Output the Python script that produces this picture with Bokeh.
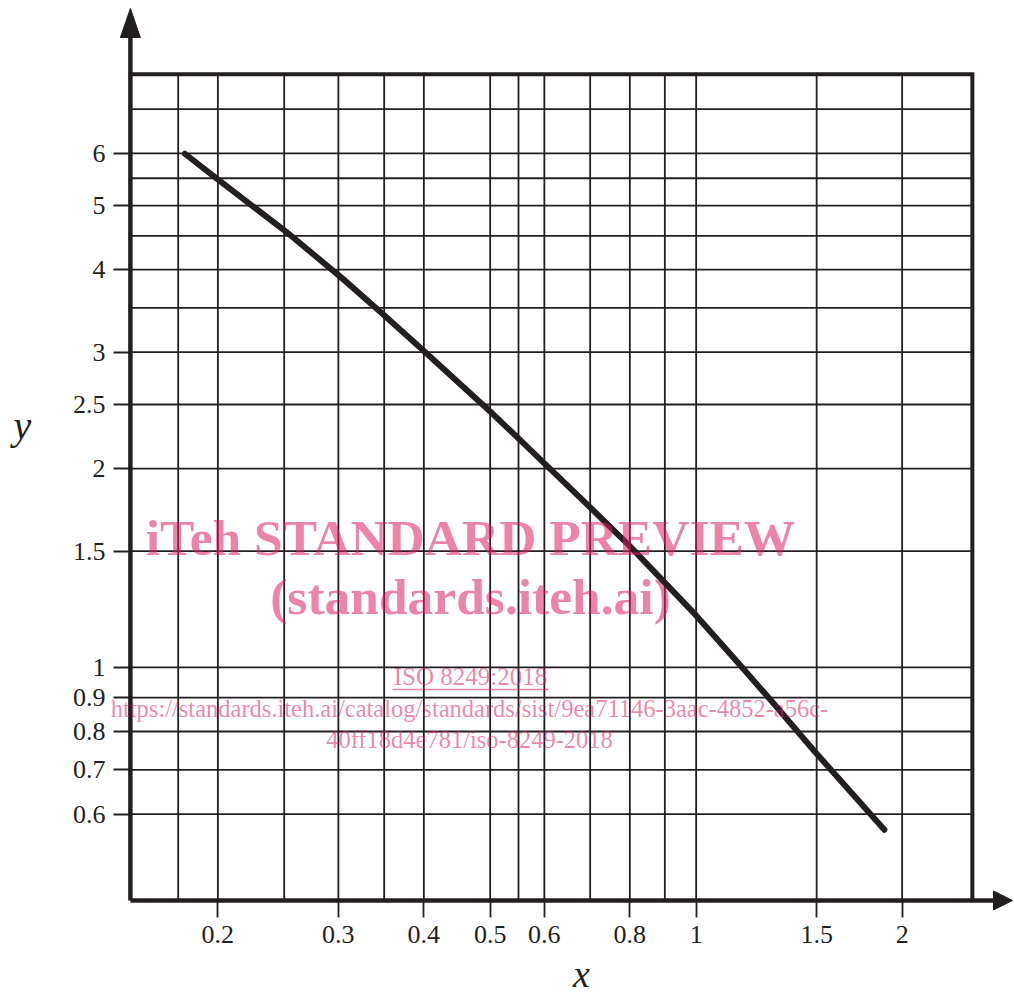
import math
from bokeh.plotting import figure
from bokeh.models import FixedTicker, Range1d, Label, CustomJSTickFormatter
from bokeh.embed import file_html
from bokeh.resources import INLINE

# ---- data ----
x_values = [0.179, 0.198, 0.252, 0.304, 0.347, 0.399, 0.500, 0.548, 0.599,
            0.691, 0.798, 0.884, 0.999, 1.148, 1.298, 1.487, 1.884]
y_values = [5.99, 5.52, 4.56, 3.88, 3.44, 3.02, 2.44, 2.23, 2.04,
            1.77, 1.53, 1.37, 1.20, 1.02, 0.882, 0.748, 0.568]

x_tick_labels = [0.2, 0.3, 0.4, 0.5, 0.6, 0.8, 1, 1.5, 2]
x_grid_values = [0.175, 0.2, 0.25, 0.3, 0.35, 0.4, 0.5, 0.55, 0.6, 0.7, 0.8,
                 0.9, 1, 1.5, 2]
y_tick_labels = [0.6, 0.7, 0.8, 0.9, 1, 1.5, 2, 2.5, 3, 4, 5, 6]
y_grid_values = [0.6, 0.7, 0.8, 0.9, 1, 1.5, 2, 2.5, 3, 3.5, 4, 4.5, 5, 5.5,
                 6, 7]

# extent of the graph paper (axis origin and far edges)
x_axis_start, x_box_end = 0.149, 2.533
y_axis_start, y_box_end = 0.444, 7.90

x_label = "x"
y_label = "y"
wm_title = "iTeh STANDARD PREVIEW"
wm_sub = "(standards.iteh.ai)"
wm_iso = "ISO 8249:2018"
wm_url1 = "https://standards.iteh.ai/catalog/standards/sist/9ea71146-3aac-4852-a56c-"
wm_url2 = "40ff18d4e781/iso-8249-2018"

# ---- styling / layout ----
INK = "#231f20"
PINK = "#dc1e64"
SERIF = "Liberation Serif"
W, H = 1014, 998
X_LO, X_HI = 0.09624, 2.919
Y_LO, Y_HI = 0.31551, 10.218

lx0, lx1 = math.log10(X_LO), math.log10(X_HI)
ly0, ly1 = math.log10(Y_LO), math.log10(Y_HI)


def px_to_x(px):
    return 10 ** (lx0 + px / W * (lx1 - lx0))


def py_to_y(py):
    return 10 ** (ly1 - py / H * (ly1 - ly0))


def x_to_px(x):
    return (math.log10(x) - lx0) / (lx1 - lx0) * W


def y_to_py(y):
    return (ly1 - math.log10(y)) / (ly1 - ly0) * H


p = figure(width=W, height=H, x_axis_type="log", y_axis_type="log",
           x_range=Range1d(X_LO, X_HI), y_range=Range1d(Y_LO, Y_HI),
           output_backend="svg", toolbar_location=None, title=None,
           min_border=0, min_border_left=0, min_border_right=0,
           min_border_top=0, min_border_bottom=0)
p.background_fill_color = "white"
p.border_fill_color = "white"
p.outline_line_color = None
p.xgrid.visible = False
p.ygrid.visible = False

fmt = CustomJSTickFormatter(code="return String(tick)")
p.xaxis.ticker = FixedTicker(ticks=x_tick_labels)
p.yaxis.ticker = FixedTicker(ticks=y_tick_labels)
p.xaxis.fixed_location = y_axis_start
p.yaxis.fixed_location = x_axis_start
for ax in (p.xaxis, p.yaxis):
    ax.formatter = fmt
    ax.axis_line_color = None
    ax.major_tick_line_color = INK
    ax.major_tick_line_width = 1.8
    ax.major_tick_in = 0
    ax.major_tick_out = 17
    ax.minor_tick_line_color = None
    ax.major_label_text_font = SERIF
    ax.major_label_text_font_size = "26px"
    ax.major_label_text_color = INK
p.xaxis.major_label_standoff = 9
p.yaxis.major_label_standoff = 8

# grid of the graph paper
nx, ny = len(x_grid_values), len(y_grid_values)
p.segment(x0=x_grid_values, y0=[y_axis_start] * nx,
          x1=x_grid_values, y1=[y_box_end] * nx,
          line_color=INK, line_width=1.8)
p.segment(x0=[x_axis_start] * ny, y0=y_grid_values,
          x1=[x_box_end] * ny, y1=y_grid_values,
          line_color=INK, line_width=1.8)
# top and right border
p.line([x_axis_start, x_box_end, x_box_end], [y_box_end, y_box_end, y_axis_start],
       line_color=INK, line_width=4, line_join="miter")

# axes with arrows
ax_px = x_to_px(x_axis_start)
ay_py = y_to_py(y_axis_start)
p.line([x_axis_start, x_axis_start], [y_axis_start, py_to_y(34)],
       line_color=INK, line_width=4.5)
p.line([x_axis_start, px_to_x(995)], [y_axis_start, y_axis_start],
       line_color=INK, line_width=4.5)
p.patch([px_to_x(ax_px - 10), px_to_x(ax_px), px_to_x(ax_px + 10)],
        [py_to_y(37), py_to_y(8), py_to_y(37)],
        fill_color=INK, line_color=INK, line_width=1)
p.patch([px_to_x(993), px_to_x(1012), px_to_x(993)],
        [py_to_y(ay_py - 9.5), py_to_y(ay_py), py_to_y(ay_py + 9.5)],
        fill_color=INK, line_color=INK, line_width=1)

# the curve
p.line(x_values, y_values, line_width=6, line_color=INK,
       line_cap="round", line_join="round")

# axis titles
p.add_layout(Label(x=px_to_x(22), y=py_to_y(425), text=y_label,
                   text_font=SERIF, text_font_style="italic",
                   text_font_size="40px", text_color=INK,
                   text_align="center", text_baseline="middle"))
p.add_layout(Label(x=px_to_x(581), y=py_to_y(973), text=x_label,
                   text_font=SERIF, text_font_style="italic",
                   text_font_size="38px", text_color=INK,
                   text_align="center", text_baseline="middle"))


# watermark
def wm(text, cx, cy, size, bold=False):
    p.add_layout(Label(x=px_to_x(cx), y=py_to_y(cy), text=text,
                       text_font=SERIF,
                       text_font_style="bold" if bold else "normal",
                       text_font_size=size, text_color=PINK, text_alpha=0.55,
                       text_align="center", text_baseline="middle"))


wm(wm_title, 470, 537, "51.5px", True)
wm(wm_sub, 470, 596, "51.5px", True)
wm(wm_iso, 470, 676, "25px")
wm(wm_url1, 469, 708, "24.5px")
wm(wm_url2, 469, 739, "24.5px")
p.line([px_to_x(392), px_to_x(548)], [py_to_y(689), py_to_y(689)],
       line_color=PINK, line_alpha=0.55, line_width=1.5)

open("out.html", "w").write(file_html(p, INLINE))
